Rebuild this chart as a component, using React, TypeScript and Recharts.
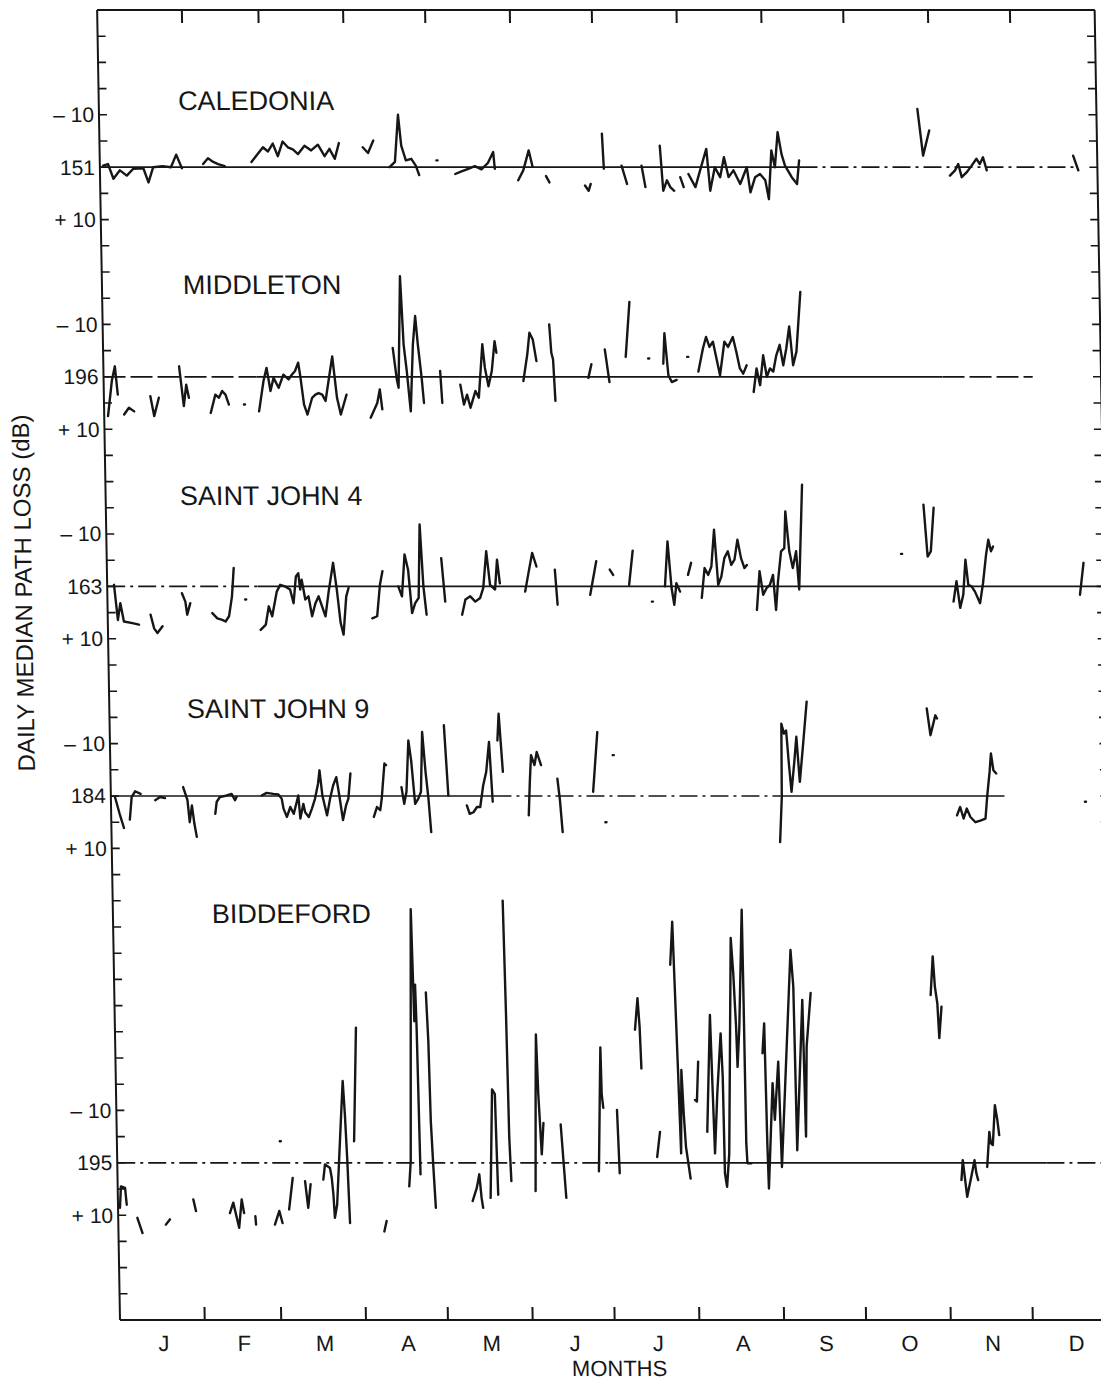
import React from 'react';
import { LineChart, Line, XAxis, YAxis, ReferenceLine, ReferenceDot } from 'recharts';

// ---------------- data ----------------
const monthLabels = ['J', 'F', 'M', 'A', 'M', 'J', 'J', 'A', 'S', 'O', 'N', 'D'];
const monthStarts = [0, 31, 59, 90, 120, 151, 181, 212, 243, 273, 304, 334, 365];

const stationNames = ['CALEDONIA', 'MIDDLETON', 'SAINT JOHN 4', 'SAINT JOHN 9', 'BIDDEFORD'];
const stationMedians = ['151', '196', '163', '184', '195'];
// level (in dB along the stacked axis) of each station's median line
const stationBase = [30, 70, 110, 150, 220];

// day of year / deviation from the daily median (dB, + = more loss); null = gap
const caledoniaDays = [1.2, 3, 4.9, 7.3, 9.8, 12.2, 15.9, 17.7, 19.5, 23, 26, 28, 30, null,
  37.8, 39.6, 41.5, 43.3, 45.7, null,
  55.5, 57.3, 59.8, 61.6, 63.4, 65.2, 67, 68.9, 70.7, 72.6, 75, 77.4, 79.9, 82.3, 84.1, 86, 87.6, null,
  96.3, 98.2, 100.2, null,
  106, 108, 109.4, 110.4, 112, 114, 115.6, 116.8, null,
  123.2, 123.6, null,
  130, 132.3, 134.8, 137.2, 139.6, 142, 144, 144.5, null,
  153, 154.9, 157, 158.3, null,
  163.2, 164.4, null,
  177.4, 178.7, 179.5, null,
  183.9, 184.4, null,
  190.9, 192.8, null,
  198.2, 199.5, null,
  205, 206, 207.4, 208.6, 210, null,
  212.3, 213.5, null,
  215.3, 217.8, 219.6, 222, 223.2, 225, 226.9, 228.4, 230, 231.8, 234.2, 236.7, 237.9, 239.7, 241.5, 243.4, 244.6, 245.8, 247, 248.2, 249.5, 250.7, 253.1, 255, 255.9, null,
  299.5, 301.3, 303.7, null,
  311, 312.9, 314.1, 315.3, 317.1, 319, 320.8, 322, 323.2, 324.5, null,
  356.2, 358];
const caledoniaLoss = [-0.3, -0.6, 2.2, 0.6, 1.6, 0.3, 0.2, 2.9, 0, -0.2, 0, -2.4, 0.2, null,
  -0.6, -1.7, -1, -0.6, -0.2, null,
  -1, -2.2, -3.8, -3, -4.5, -2.1, -4.9, -3.8, -3.4, -2.5, -4.1, -3.2, -4.3, -2.1, -3.5, -1.6, -4.6, null,
  -3.8, -2.7, -5.1, null,
  0, -1, -10, -4.1, -1.3, -1.6, -0.3, 1.5, null,
  -1.3, -1.3, null,
  1.3, 0.8, 0.3, -0.2, 0.4, -0.8, -2.9, 0.3, null,
  2.5, 0.6, -3.2, -0.2, null,
  1.7, 2.9, null,
  3.5, 4.5, 3.2, null,
  -6.4, 0.3, null,
  -0.3, 3.2, null,
  -0.3, 3.8, null,
  -4.1, 4.5, 2.5, 3.8, 4.5, null,
  1.9, 3.8, null,
  1.3, 3.8, 0.6, -3.5, 4.5, 0, 1.9, -1.9, 1.9, 0.6, 3.2, 0, 4.8, 1.9, 1.3, 2.5, 6.1, -3.2, 0, -6.7, -2.5, -0.3, 1.9, 3.2, -1.3, null,
  -11.1, -2.2, -7, null,
  1.6, 0.6, -0.6, 1.9, 1, -0.3, -1.6, -0.6, -1.9, 0.6, null,
  -2.2, 0.6];

const middletonDays = [1.4, 3, 4.2, 5.1, null,
  7.3, 9.1, 11, null,
  17, 18.3, 20.1, null,
  27.7, 29.2, 30.2, 31.1, null,
  39, 40.8, 42.1, 43.3, 44.5, 45.7, null,
  51.2, 51.6, null,
  56.7, 58.5, 59.7, 61, 62.2, 64, 65.8, 67.7, 68.9, 70.1, 71.3, 72, 73.2, 74.4, 76.2, 77.4, 78.6, 79.9, 81.1, 82.9, 83.8, 85.3, 86.6, 88.8, null,
  97.5, 100, 101, 101.8, null,
  106, 107.3, 107.9, 109.1, 110, 111, 112.2, 113.4, 114.4, 115.2, 116.4, 117.1, null,
  123.2, 123.8, null,
  130.5, 131.7, 132.9, 134.1, 136, 137.2, 138.8, 139.6, 140.8, 142.1, 143.3, 143.9, null,
  153.6, 155.2, 156.1, 157.3, 158.5, null,
  163.4, 164, 164.6, 165.2, null,
  177.4, 178.6, null,
  183.6, 185.1, null,
  191.2, 192.9, null,
  199.4, 199.8, null,
  204.9, 205.5, 206.7, 207.9, 209.7, null,
  213.7, 214.1, null,
  217.7, 219.5, 220.7, 221.9, 223.2, 225.6, 227.4, 228.7, 230.5, 231.7, 232.9, 234.1, 235.4, null,
  237.8, 239, 240.2, 241.5, 242.7, 243.9, 245.1, 246.3, 247.6, 248.8, 250, 251.2, 252.4, 253.7, 255.5];
const middletonLoss = [7.5, 0.8, -2, 3.4, null,
  7.2, 5.9, 6.6, null,
  3.7, 7.5, 4, null,
  -2, 5.6, 1.5, 4, null,
  6.9, 3.4, 4, 2.7, 3.4, 5.3, null,
  5.3, 5.3, null,
  6.6, 0.8, -1.7, 2.7, 0.2, 2.1, -0.4, 0.5, -0.4, -1.1, -2.7, -0.1, 5.3, 7.2, 4, 3.4, 3.1, 3.4, 4.6, -1.1, -3.9, 4, 7.2, 3.4, null,
  7.8, 5, 2.4, 6.2, null,
  -5.5, 0.5, 2.1, -19.2, -6.2, -1.1, 6.6, -6.2, -11.6, -6.2, 0.2, 5, null,
  -1.1, 5, null,
  1.5, 5.3, 3.4, 5.9, 2.7, 4, -6.2, -1.7, 1.8, -1.1, -6.8, -4.6, null,
  0.8, -4.3, -8.4, -7.1, -3, null,
  -10, -4.6, -3.3, 4.6, null,
  0.2, -2.4, null,
  -5.2, 1, null,
  -3.8, -14.3, null,
  -3.5, -3.5, null,
  -2.5, -8.3, -0.3, 1, 0.6, null,
  -3.8, -3.8, null,
  -1, -5.4, -7.6, -5.7, -6.7, -0.3, -6.7, -5.7, -7.6, -4.8, -1.6, -0.6, -2.2, null,
  2.9, -1.6, 1.6, -4.1, 0, -1.6, -1, -4.1, -6.1, -2.2, -5.4, -9.6, -2.2, -4.8, -16.2];

const saintJohn4Days = [2.5, 3.7, 4.7, 5.9, 9, 11.4, null,
  15.7, 16.9, 18.1, 20, null,
  27.3, 28.5, 29.1, 30.3, null,
  38.3, 40.1, 41.9, 43.1, 44.4, 45.6, 46.4, null,
  50.4, 50.8, null,
  55.9, 57.8, 59, 60.2, 62, 63.3, 65.1, 66.9, 68.1, 69.1, 70, 70.6, 71.2, 72.4, 73.6, 74.8, 76.1, 77.3, 78.5, 79.7, 81, 82.8, 84, 85.2, 86.2, 87.4, 88.3, null,
  96.8, 98.6, 99.8, 100.8, null,
  106.5, 107.8, 109, 110.2, 111.4, 112.6, 113.9, 114.7, 115.7, 116.7, null,
  122.4, 123.6, null,
  129.7, 131, 132.8, 134.6, 136.4, 137.6, 138.9, 140.1, 141.9, 142.8, 143.7, null,
  152.9, 154.1, 155.7, 157.2, null,
  163.9, 164.7, null,
  176.7, 179.1, null,
  184, 185.2, null,
  191, 192.5, null,
  199.2, 199.6, null,
  204.1, 205.3, 206.5, 207.4, 208.3, 209.6, null,
  212.6, 213.8, null,
  217.5, 218.7, 220, 221.2, 222.4, 223.6, 224.8, 226, 227.3, 228.5, 229.7, 230.9, 232.1, 233.3, 234.2, null,
  237.6, 238.8, 240, 241.3, 242.5, 243.7, 244.6, 245.5, 246.8, 248, 248.6, 249.8, 251, 252.3, 253.2, 254.9, null,
  290.7, 291.1, null,
  299.2, 300.4, 301.6, 302.9, null,
  309.6, 310.8, 312, 313.2, 314.2, 315.1, 316.3, 317.5, 319.3, 320.5, 321.8, 322.7, 323.6, 324.4, null,
  355.9, 357.4];
const saintJohn4Loss = [-0.3, 6.4, 3.2, 6.7, 7, 7.3, null,
  5.4, 8, 8.9, 7.6, null,
  1.3, 2.9, 5.4, 3.2, null,
  5.1, 6.1, 6.4, 6.7, 5.7, 1.9, -3.5, null,
  2.5, 2.5, null,
  8.3, 7.3, 3.8, 5.7, 1, -0.3, 0, 0.6, 3.2, -1.9, -2.5, 0.6, -1.3, 2.5, 1.9, 5.7, 3.2, 1.9, 3.8, 5.7, 1, -4.5, 0.6, 7, 9.2, 1.9, 0.3, null,
  6.1, 5.7, -0.3, -2.9, null,
  0, 1.9, -6.1, -3.2, 5.1, 3.2, 2.2, -11.8, 0, 5.4, null,
  -5.4, 2.9, null,
  5.4, 2.5, 1.9, 2.9, 2.2, 0.3, -6.7, -0.3, 0.6, -5.1, -0.6, null,
  1, -2.2, -6.4, -3.8, null,
  -3.2, 3.5, null,
  1.6, -4.8, null,
  -3.2, -2.2, null,
  -0.3, -6.8, null,
  2.9, 2.9, null,
  0, -8.6, 0.3, 3.5, -0.6, 1, null,
  -2.2, -4.5, null,
  2.2, -3.5, -2.2, -3.8, -10.8, -0.3, -1.9, -5.4, -6.7, -4.1, -5.1, -8.9, -5.4, -3.5, -4.1, null,
  4.5, -2.9, 1.6, 0.3, -0.3, -2.2, 4.5, -1, -6.7, -7.3, -14.3, -6.7, -3.5, -6.7, 0.6, -19.4, null,
  -6.2, -6.2, null,
  -15.6, -5.7, -6.7, -15, null,
  2.9, -1, 4.1, 1.6, -5.1, -0.3, 0, 1, 3.2, -0.6, -6.1, -8.9, -6.7, -7.6, null,
  1.6, -4.5];

const saintJohn9Days = [1.5, 3.1, 4.6, null,
  6.8, 7.6, 8.9, 10.9, null,
  16.2, 18, 19.8, null,
  26.5, 28, 28.7, 29.6, 30.4, 31.2, null,
  38.1, 38.7, 39.9, 42.4, 44.2, 45.4, 46, null,
  55.2, 57, 59.5, 61.3, 62.5, 63.1, 64.3, 65.6, 66.8, 68, 68.6, 69.2, 70.4, 71, 72.3, 73.5, 74.7, 75.9, 76.5, 77.4, 79, 80.2, 81.4, 82.6, 83.6, 84.8, 86, 86.9, 87.8, null,
  96.1, 97.3, 98.5, 99.1, 100.3, 100.9, null,
  106.4, 107.3, 108.2, 109.2, 110.1, 111.3, 112.5, 113.5, 114.3, 115.3, 116.2, 117, null,
  122.3, 123.5, null,
  130.2, 131.2, 132.6, 133.9, 135.1, 136.3, 137.5, 138.7, 139.7, null,
  141.8, 142.4, 143.6, null,
  152.8, 153.4, 154, 155.2, 156.1, 157.6, null,
  163.5, 164.3, 165.1, null,
  176.5, 178.4, null,
  180.8, 181.2, null,
  183.9, 184.3, null,
  244.6, 245.5, 245.8, 246.7, 247.5, 248.3, 249.1, 250.3, 251.2, 252.2, 253.6, 255.2, null,
  299.1, 300.3, 302.2, 302.8, null,
  309.5, 310.7, 311.9, 313.1, 314.4, 316.2, 318, 319.9, 320.7, 321.7, 322.3, 323.1, 324.1, null,
  356.4, 356.8];
const saintJohn9Loss = [0.2, 3.4, 6.1, null,
  4.5, 0.2, -0.9, -0.4, null,
  0.8, 0.2, 0.4, null,
  -1.7, 0.8, 5, 1.8, 5.3, 7.8, null,
  3.4, 1.1, 0.2, -0.1, -0.4, 0.8, 0.2, null,
  -0.1, -0.6, -0.4, -0.3, 0.5, 2.4, 4, 2.1, 3.4, 1.1, -0.1, 4.3, 1.5, 3.1, 4, 2.4, 0.5, -2.4, -4.9, -0.1, 3.7, 0.5, -2, -3.6, -0.1, 4.6, 1.8, 0.5, -4.3, null,
  4, 2.1, 2.7, 0.5, -6.2, -5.9, null,
  -1.7, 1.5, -0.8, -10.6, -6.8, 1.5, 0.5, -0.8, -12.2, -4.6, 0.5, 6.9, null,
  -13.5, -0.1, null,
  1.8, 3.4, 3.1, 2.1, 2.1, -2, -4.6, -10.3, 1.1, null,
  -10.6, -15.7, -4.6, null,
  3.7, -2.7, -7.8, -5.9, -8.4, -5.9, null,
  -3.3, 0.8, 6.9, null,
  -0.8, -12.2, null,
  5, 5, null,
  -7.8, -7.8, null,
  8.8, 0.2, -13.8, -11.9, -12.5, -6.2, -0.8, -6.5, -11.3, -2.7, -9.7, -18, null,
  -16.7, -11.6, -15.4, -14.8, null,
  3.7, 2.1, 4.3, 2.4, 4, 5, 4.7, 4.3, -0.1, -4.6, -8.1, -4.9, -4.3, null,
  1.1, 1.1];

const biddefordDays = [0.7, 1.2, 2.7, 3.2, null,
  7, 8.8, null,
  17.4, 18.9, null,
  27.6, 28.5, null,
  40.9, 42.2, 43.4, 44.2, 45.3, 46.1, null,
  50.2, 50.4, null,
  57.3, 59, 60.1, null,
  59.6, 60, null,
  62.6, 64.1, null,
  68.6, 69.6, 70.6, null,
  75.3, 76, 77.8, 78.4, 78.9, 79.3, 80.2, 81.7, 83, 83.6, 84.2, 84.8, null,
  86.8, 88.2, null,
  97.3, 98.2, null,
  106.7, 107.4, 109, 109.6, 110.1, 110.4, 110.9, null,
  114, 114.6, 115, 115.6, 116.3, null,
  129.8, 131.4, 132.4, 133.1, 133.6, null,
  136.4, 137.6, 138.6, 138.9, 139.2, null,
  142.7, 143.2, 143.6, 144.1, null,
  152.9, 153.5, 154, 154.5, 155.4, 156.2, null,
  162.5, 164.1, null,
  176.2, 177.5, 177.7, 178.2, null,
  183.2, 183.8, null,
  190.3, 191.4, 192, 192.4, null,
  197.6, 198.8, null,
  203.6, 204.6, 205.8, 206.4, 207, 207.6, 208.2, 209.7, null,
  211.8, 212.5, 213.2, null,
  216.1, 217.8, 218.3, 218.8, 220, 221.6, 222.1, 222.3, 223, 224, 225.9, 226.6, 227.3, 227.6, 228.5, 230.1, 230.2, 230.3, 230.6, 232.1, null,
  236.8, 237.6, 238, 238.3, 240.3, 240.9, 242.5, 243.2, 247.7, 248.5, 248.9, 251.7, 252.2, 253, 254.8, null,
  298.7, 299.7, 300.3, 301.1, 301.6, 302.6, null,
  308.8, 309.4, 310.8, 312.4, 313.7, 314.3, 314.9, null,
  318.3, 319.3, 319.8, 320.5, 321.5, 322.3, 322.9];
const biddefordLoss = [8.6, 4.5, 4.8, 8, null,
  10.5, 13.4, null,
  11.8, 10.8, null,
  7, 9.2, null,
  9.6, 7.6, 10.5, 12.4, 7, 9.6, null,
  10.2, 11.8, null,
  11.8, 9.2, 11.5, null,
  -4.1, -4.1, null,
  8.9, 2.9, null,
  3.5, 8.6, 4.1, null,
  3.2, 0.3, 1, 2.9, 6.1, 10.5, 8, -4.8, -15.6, -9.2, -0.3, 11.5, null,
  -4.1, -25.8, null,
  13.1, 11.1, null,
  4.5, -0.3, -48.4, -27, -34, -25.8, 2.2, null,
  -32.5, -23.2, -7.9, 0.3, 8.6, null,
  7.3, 4.8, 2.2, 6.7, 8.6, null,
  6.7, -14, -13.1, -2.9, 6.1, null,
  -50, -28.3, -4.8, 3.5, null,
  5.4, -12.4, -24.5, -13.1, -1.6, -7.6, null,
  -7.3, 6.7, null,
  1.6, -22, -13.1, -10.5, null,
  -10.1, 2, null,
  -25.4, -31.4, -26, -18, null,
  -1.1, -5.9, null,
  -37.8, -46, -17.1, -1.8, -17.7, -9.4, -3.1, 3, null,
  -12, -11.7, -19.3, null,
  -5.9, -28.2, -14.5, -1.8, -13.2, -24.7, -16.4, 2, 4.6, -1.8, -42.9, -36.2, -26, -18.3, -26, -48.3, -33.6, -3.7, 0.1, 0.1, null,
  -20.9, -26.6, -3.7, 4.9, -15.2, -8.2, -19.3, 0.8, -40.6, -33.6, -2.4, -31.1, -5, -22.2, -32.4, null,
  -32, -39.4, -33.6, -30.4, -23.8, -29.8, null,
  3.3, -0.5, 6.5, 2.7, -0.5, 2, 3.3, null,
  0.8, -5.9, -3.7, -3.4, -11, -8.2, -5.3];

// extent (days) of the drawn median line pieces for each station: [from, to, style]
const medianSpans: [number, number, 'solid' | 'dash' | 'dashdot'][][] = [
  [[0, 256, 'solid'], [256, 358, 'dashdot']],
  [[0, 56, 'dash'], [56, 307, 'solid'], [307, 340, 'dash']],
  [[0, 55, 'dashdot'], [55, 365, 'solid']],
  [[0, 140, 'solid'], [140, 245, 'dashdot'], [245, 327, 'solid']],
  [[0, 180, 'dashdot'], [180, 340, 'solid'], [340, 365, 'dashdot']],
];

const yTickValues = [20, 30, 40, 60, 70, 80, 100, 110, 120, 140, 150, 160, 210, 220, 230];
const yTickLabels = ['– 10', '151', '+ 10', '– 10', '196', '+ 10', '– 10', '163', '+ 10', '– 10', '184', '+ 10', '– 10', '195', '+ 10'];

// ---------------- layout / style ----------------
const FONT = '"Liberation Sans", Arial, Helvetica, sans-serif';
const INK = '#161616';
const CHART_W = 1120;
const CHART_H = 1374;
const SHEAR_DEG = 1.0;
const Y_MIN = 0;
const Y_MAX = 250;
const TOP_TICK = 2.5; // dB-units long month ticks
const labelPos = [
  { day: 29, level: 17.2 },
  { day: 29.6, level: 52.3 },
  { day: 27.2, level: 92.7 },
  { day: 28.4, level: 133.2 },
  { day: 36.2, level: 172.5 },
];
const dashes = { solid: undefined, dash: '22 5', dashdot: '18 5 3 5' } as const;

type Row = { day: number; v: number | null };
function buildRows(days: (number | null)[], loss: (number | null)[], base: number): Row[] {
  const rows: Row[] = [];
  let last = 0;
  days.forEach((d, i) => {
    const l = loss[i];
    if (d === null || l === null || l === undefined) rows.push({ day: last, v: null });
    else {
      last = d;
      rows.push({ day: d, v: base + l });
    }
  });
  return rows;
}

const series = [
  buildRows(caledoniaDays, caledoniaLoss, stationBase[0]),
  buildRows(middletonDays, middletonLoss, stationBase[1]),
  buildRows(saintJohn4Days, saintJohn4Loss, stationBase[2]),
  buildRows(saintJohn9Days, saintJohn9Loss, stationBase[3]),
  buildRows(biddefordDays, biddefordLoss, stationBase[4]),
];

const midMonths = monthLabels.map((_, i) => (monthStarts[i] + monthStarts[i + 1]) / 2);
const monthBoundaries = monthStarts.slice(1, 12);
const fiveDbTicks = Array.from({ length: 51 }, (_, i) => i * 5);

const EmptyTick = () => <g />;
const blank = () => '';

const YTitle = (props: any) => {
  const vb = props.viewBox || { x: 0, y: 0, width: 0, height: 0 };
  const cx = vb.x + 28;
  const cy = vb.y + vb.height * 0.445;
  return (
    <text
      transform={`translate(${cx}, ${cy}) rotate(-90)`}
      textAnchor="middle"
      dominantBaseline="central"
      fontFamily={FONT}
      fontSize={24}
      fill={INK}
    >
      DAILY MEDIAN PATH LOSS (dB)
    </text>
  );
};

export default function App() {
  return (
    <div style={{ width: 1101, height: CHART_H, background: '#fff' }}>
      <style>{'html,body{overflow:hidden;background:#fff}'}</style>
      <div style={{ transform: `skewX(${SHEAR_DEG}deg)`, transformOrigin: '0px 1312px' }}>
        <LineChart width={CHART_W} height={CHART_H} margin={{ top: 2, right: 10.5, bottom: 0, left: 0 }}>
          <XAxis
            xAxisId="m"
            type="number"
            dataKey="day"
            domain={[0, 365]}
            allowDataOverflow
            ticks={midMonths}
            tickFormatter={(v: number) => monthLabels[midMonths.indexOf(v)] ?? ''}
            interval={0}
            height={62}
            tickLine={false}
            tickSize={0}
            tickMargin={15}
            axisLine={{ stroke: INK, strokeWidth: 2 }}
            tick={{ fill: INK, fontSize: 22, fontFamily: FONT, dx: 1 }}
            label={{ value: 'MONTHS', position: 'insideBottom', offset: 6, fill: INK, fontSize: 22, fontFamily: FONT }}
          />
          <XAxis
            xAxisId="top"
            orientation="top"
            mirror
            type="number"
            dataKey="day"
            domain={[0, 365]}
            allowDataOverflow
            ticks={monthBoundaries}
            interval={0}
            tick={EmptyTick}
            tickFormatter={blank}
            tickLine={false}
            axisLine={{ stroke: INK, strokeWidth: 2 }}
          />
          <YAxis
            yAxisId="m"
            type="number"
            domain={[Y_MIN, Y_MAX]}
            reversed
            allowDataOverflow
            ticks={yTickValues}
            interval={0}
            tickFormatter={(v: number) => yTickLabels[yTickValues.indexOf(v)] ?? ''}
            width={112}
            tickLine={false}
            tickSize={0}
            tickMargin={5}
            axisLine={false}
            tick={{ fill: INK, fontSize: 21, fontFamily: FONT }}
            label={{ content: YTitle }}
          />
          <YAxis
            yAxisId="lt"
            mirror
            type="number"
            domain={[Y_MIN, Y_MAX]}
            reversed
            allowDataOverflow
            ticks={fiveDbTicks}
            interval={0}
            tick={EmptyTick}
            tickFormatter={blank}
            tickSize={8}
            tickLine={{ stroke: INK, strokeWidth: 1.6 }}
            axisLine={{ stroke: INK, strokeWidth: 2 }}
          />
          <YAxis
            yAxisId="rt"
            orientation="right"
            mirror
            type="number"
            domain={[Y_MIN, Y_MAX]}
            reversed
            allowDataOverflow
            ticks={fiveDbTicks}
            interval={0}
            tick={EmptyTick}
            tickFormatter={blank}
            tickSize={8}
            tickLine={{ stroke: INK, strokeWidth: 1.6 }}
            axisLine={{ stroke: INK, strokeWidth: 2 }}
          />

          {monthBoundaries.map((d) => (
            <ReferenceLine
              key={`tt-${d}`}
              xAxisId="m"
              yAxisId="m"
              segment={[{ x: d, y: Y_MIN }, { x: d, y: Y_MIN + TOP_TICK }]}
              stroke={INK}
              strokeWidth={2}
            />
          ))}
          {monthBoundaries.map((d) => (
            <ReferenceLine
              key={`bt-${d}`}
              xAxisId="m"
              yAxisId="m"
              segment={[{ x: d, y: Y_MAX - TOP_TICK }, { x: d, y: Y_MAX }]}
              stroke={INK}
              strokeWidth={2}
            />
          ))}

          {medianSpans.map((spans, si) =>
            spans.map(([a, b, style], k) => (
              <ReferenceLine
                key={`ml-${si}-${k}`}
                xAxisId="m"
                yAxisId="m"
                segment={[{ x: a, y: stationBase[si] }, { x: b, y: stationBase[si] }]}
                stroke={INK}
                strokeWidth={1.7}
                strokeDasharray={dashes[style]}
              />
            ))
          )}

          {stationNames.map((name, i) => (
            <ReferenceDot
              key={`lbl-${i}`}
              xAxisId="m"
              yAxisId="m"
              x={labelPos[i].day}
              y={labelPos[i].level}
              r={0}
              fill="none"
              stroke="none"
              label={{ value: name, position: 'right', offset: 0, fill: INK, fontSize: 27, fontFamily: FONT }}
            />
          ))}

          {series.map((rows, i) => (
            <Line
              key={`s-${i}`}
              name={`${stationNames[i]} (${stationMedians[i]})`}
              xAxisId="m"
              yAxisId="m"
              data={rows}
              dataKey="v"
              type="linear"
              stroke={INK}
              strokeWidth={2.4}
              strokeLinecap="round"
              strokeLinejoin="round"
              dot={false}
              activeDot={false}
              connectNulls={false}
              isAnimationActive={false}
            />
          ))}
        </LineChart>
      </div>
    </div>
  );
}
